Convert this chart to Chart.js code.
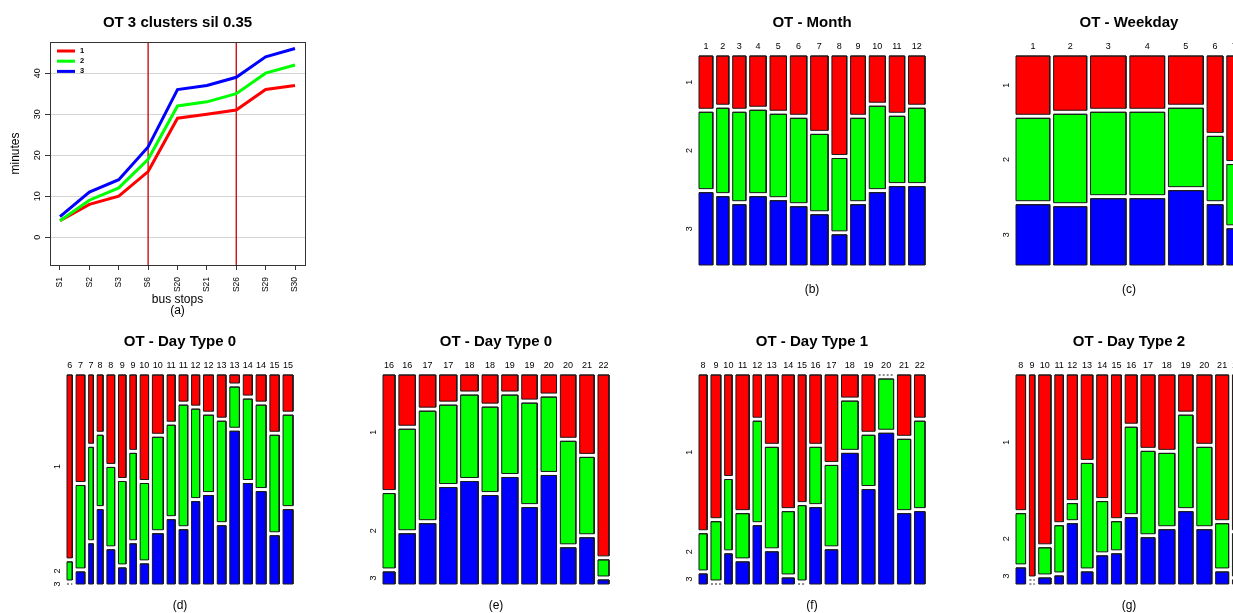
<!DOCTYPE html>
<html>
<head>
<meta charset="utf-8">
<title>OT clusters</title>
<script src="https://cdn.jsdelivr.net/npm/chart.js@4.4.0/dist/chart.umd.min.js"></script>
<style>
  html, body { margin: 0; padding: 0; background: #fff; }
  body { width: 1233px; height: 613px; overflow: hidden; position: relative; }
  canvas { position: absolute; }
</style>
</head>
<body>
<canvas id="chartA" width="356" height="320" style="left:0;top:0"></canvas>
<canvas id="chartB" width="266" height="300" style="left:679px;top:0"></canvas>
<canvas id="chartC" width="266" height="300" style="left:996px;top:0"></canvas>
<canvas id="chartD" width="266" height="300" style="left:47px;top:319px"></canvas>
<canvas id="chartE" width="266" height="300" style="left:363px;top:319px"></canvas>
<canvas id="chartF" width="266" height="300" style="left:679px;top:319px"></canvas>
<canvas id="chartG" width="266" height="300" style="left:996px;top:319px"></canvas>
<script>
// ----- data -----
const clusterNames = ['1', '2', '3'];
const clusterColors = ['#ff0000', '#00ff00', '#0000ff'];

// (a) mean travel time per cluster
const busStops = ['S1', 'S2', 'S3', 'S6', 'S20', 'S21', 'S26', 'S29', 'S30'];
const travelC1 = [4, 8, 10, 16, 29, 30, 31, 36, 37];
const travelC2 = [4, 9, 12, 19, 32, 33, 35, 40, 42];
const travelC3 = [5, 11, 14, 22, 36, 37, 39, 44, 46];
const splitStops = ['S6', 'S26'];
const minuteTicks = [0, 10, 20, 30, 40];

// (b) month
const monthLabels = ['1', '2', '3', '4', '5', '6', '7', '8', '9', '10', '11', '12'];
const monthTrips = [42, 37, 40, 50, 50, 50, 53, 45, 45, 49, 47, 50];
const monthC1 = [26, 24, 26, 25, 27, 29, 37, 49, 29, 23, 28, 24];
const monthC2 = [38, 42, 44, 41, 41, 42, 38, 36, 41, 41, 33, 37];
const monthC3 = [36, 34, 30, 34, 32, 29, 25, 15, 30, 36, 39, 39];

// (c) weekday
const weekdayLabels = ['1', '2', '3', '4', '5', '6', '7'];
const weekdayTrips = [100, 98, 105, 103, 103, 47, 45];
const weekdayC1 = [29, 27, 26, 26, 24, 38, 52];
const weekdayC2 = [41, 44, 41, 41, 39, 32, 30];
const weekdayC3 = [30, 29, 33, 33, 37, 30, 18];

// (d) day type 0, morning
const dayType0aLabels = ['6', '7', '7', '8', '8', '9', '9', '10', '10', '11', '11', '12', '12', '13', '13', '14', '14', '15', '15'];
const dayType0aTrips = [17, 28, 15, 19, 25, 24, 21, 27, 35, 26, 28, 26, 32, 28, 31, 29, 32, 30, 32];
const dayType0aC1 = [91, 53, 34, 28, 44, 51, 37, 52, 29, 23, 13, 15, 18, 21, 4, 10, 13, 28, 18];
const dayType0aC2 = [9, 41, 46, 35, 39, 41, 43, 38, 46, 45, 60, 44, 38, 50, 20, 40, 41, 48, 45];
const dayType0aC3 = [0, 6, 20, 37, 17, 8, 20, 10, 25, 32, 27, 41, 44, 29, 76, 50, 46, 24, 37];

// (e) day type 0, afternoon
const dayType0bLabels = ['16', '16', '17', '17', '18', '18', '19', '19', '20', '20', '21', '22'];
const dayType0bTrips = [35, 48, 48, 50, 51, 46, 47, 45, 45, 45, 42, 32];
const dayType0bC1 = [57, 25, 16, 13, 8, 14, 8, 12, 9, 31, 39, 90];
const dayType0bC2 = [37, 50, 54, 39, 41, 42, 39, 50, 37, 51, 38, 8];
const dayType0bC3 = [6, 25, 30, 48, 51, 44, 53, 38, 54, 18, 23, 2];

// (f) day type 1
const dayType1Labels = ['8', '9', '10', '11', '12', '13', '14', '15', '16', '17', '18', '19', '20', '21', '22'];
const dayType1Trips = [24, 29, 22, 39, 25, 38, 36, 23, 34, 37, 49, 38, 44, 39, 31];
const dayType1C1 = [77, 71, 50, 67, 21, 34, 66, 63, 34, 43, 11, 28, 0, 30, 21];
const dayType1C2 = [18, 29, 35, 22, 50, 50, 31, 37, 28, 40, 24, 25, 25, 35, 43];
const dayType1C3 = [5, 0, 15, 11, 29, 16, 3, 0, 38, 17, 65, 47, 75, 35, 36];

// (g) day type 2
const dayType2Labels = ['8', '9', '10', '11', '12', '13', '14', '15', '16', '17', '18', '19', '20', '21', '22'];
const dayType2Trips = [28, 16, 36, 25, 30, 34, 32, 29, 35, 41, 47, 42, 44, 38, 28];
const dayType2C1 = [67, 100, 84, 73, 62, 42, 61, 71, 24, 36, 37, 18, 34, 72, 77];
const dayType2C2 = [25, 0, 13, 23, 8, 52, 25, 14, 43, 41, 36, 46, 39, 22, 21];
const dayType2C3 = [8, 0, 3, 4, 30, 6, 14, 15, 33, 23, 27, 36, 27, 6, 2];

const GAP_X = 0.017;  // gap between columns, share of the plot width
const GAP_Y = 0.02;   // gap between cells of a column

const FONT = "'Liberation Sans', Arial, Helvetica, sans-serif";
Chart.defaults.font.family = FONT;
Chart.defaults.color = '#000';
Chart.defaults.animation = false;
Chart.defaults.plugins.legend.display = false;
Chart.defaults.plugins.tooltip.enabled = false;

// ----- small plugins -----
// y labels written along the axis, like R does
const sideLabels = {
  id: 'sideLabels',
  afterDraw(chart, args, opts) {
    if (!opts.values) return;
    const { ctx, chartArea } = chart;
    const ys = chart.scales.y;
    ctx.save();
    ctx.font = opts.size + 'px ' + FONT;
    ctx.fillStyle = '#000';
    ctx.textAlign = 'center';
    ctx.textBaseline = 'middle';
    opts.values.forEach((v, i) => {
      ctx.save();
      ctx.translate(chartArea.left - opts.offset, ys.getPixelForValue(v));
      ctx.rotate(-Math.PI / 2);
      ctx.fillText(opts.labels[i], 0, 0);
      ctx.restore();
    });
    ctx.restore();
  }
};

const frame = {
  id: 'frame',
  afterDatasetsDraw(chart) {
    const { ctx, chartArea: a } = chart;
    ctx.save();
    ctx.strokeStyle = '#333';
    ctx.lineWidth = 1;
    ctx.strokeRect(Math.round(a.left) + 0.5, Math.round(a.top) + 0.5, Math.round(a.width), Math.round(a.height));
    ctx.restore();
  }
};

const cornerLegend = {
  id: 'cornerLegend',
  afterDatasetsDraw(chart) {
    const { ctx, chartArea: a } = chart;
    const items = chart.data.datasets.filter(d => clusterNames.includes(d.label))
      .sort((p, q) => clusterNames.indexOf(p.label) - clusterNames.indexOf(q.label));
    ctx.save();
    ctx.font = 'bold 7.5px ' + FONT;
    ctx.textBaseline = 'middle';
    ctx.fillStyle = '#000';
    items.forEach((d, i) => {
      const y = a.top + 9 + i * 10.2;
      ctx.strokeStyle = d.borderColor;
      ctx.lineWidth = 3;
      ctx.beginPath();
      ctx.moveTo(a.left + 7, y);
      ctx.lineTo(a.left + 25, y);
      ctx.stroke();
      ctx.fillText(d.label, a.left + 30, y);
    });
    ctx.restore();
  }
};

// ----- (a) line chart -----
const yMinA = -6.8, yMaxA = 47.6;
const travel = [travelC1, travelC2, travelC3];

new Chart(document.getElementById('chartA'), {
  type: 'line',
  data: {
    datasets: [
      ...travel.map((vals, k) => ({
        label: clusterNames[k],
        data: vals.map((v, i) => ({ x: i + 1, y: v })),
        borderColor: clusterColors[k],
        borderWidth: 3,
        pointRadius: 0,
        order: 3 - k
      })),
      ...splitStops.map(s => ({
        label: s,
        data: [{ x: busStops.indexOf(s) + 1, y: yMinA }, { x: busStops.indexOf(s) + 1, y: yMaxA }],
        borderColor: '#c40000',
        borderWidth: 1.3,
        pointRadius: 0,
        order: 10
      }))
    ]
  },
  options: {
    responsive: false,
    layout: { padding: { left: 0, right: 51, top: 0, bottom: 0 } },
    scales: {
      x: {
        type: 'linear',
        min: 0.66,
        max: 9.34,
        afterBuildTicks: s => { s.ticks = busStops.map((_, i) => ({ value: i + 1 })); },
        afterFit: s => { s.height = 55; },
        ticks: {
          autoSkip: false, minRotation: 90, maxRotation: 90, padding: 7,
          font: { size: 8.5 },
          callback: (v, i) => busStops[i]
        },
        grid: { drawOnChartArea: false, tickLength: 5, tickColor: '#333' },
        border: { color: '#333' },
        title: {
          display: true, text: ['bus stops', '(a)'],
          font: { size: 12, lineHeight: 0.9 }, padding: { top: 0, bottom: 4 }
        }
      },
      y: {
        min: yMinA,
        max: yMaxA,
        afterBuildTicks: s => { s.ticks = minuteTicks.map(v => ({ value: v })); },
        afterFit: s => { s.width = 50; },
        ticks: { display: false },
        grid: { color: '#d4d4d4', tickColor: '#333', tickLength: 5 },
        border: { color: '#333' },
        title: { display: true, text: 'minutes', font: { size: 12 }, padding: { top: 8 } }
      }
    },
    plugins: {
      title: {
        display: true, text: 'OT 3 clusters sil 0.35', fullSize: false,
        font: { size: 15, weight: 'bold' }, padding: { top: 14, bottom: 10 }
      },
      sideLabels: { values: minuteTicks, labels: minuteTicks.map(String), offset: 12, size: 9 }
    }
  },
  plugins: [frame, sideLabels, cornerLegend]
});

// ----- (b)-(g) mosaic plots -----
function mosaic(id, title, tag, labels, trips, c1, c2, c3, subPad) {
  const parts = [c1, c2, c3];
  const n = labels.length;
  const sumW = trips.reduce((a, b) => a + b, 0);
  const gx = sumW * GAP_X / (1 - (n - 1) * GAP_X);
  const xMax = sumW + (n - 1) * gx;
  const yMax = 1 + 2 * GAP_Y;
  const datasets = [];
  const centers = [];
  const sideValues = [];
  let x0 = 0;
  labels.forEach((lab, j) => {
    const x1 = x0 + trips[j];
    centers.push((x0 + x1) / 2);
    const tot = c1[j] + c2[j] + c3[j];
    let y0 = 0;
    parts.forEach((p, k) => {
      const y1 = y0 + p[j] / tot;
      if (j === 0) sideValues.push((y0 + y1) / 2);
      if (p[j] > 0) {
        datasets.push({
          data: [{ x: x0, y: y0 }, { x: x1, y: y0 }, { x: x1, y: y1 }, { x: x0, y: y1 }, { x: x0, y: y0 }, { x: x1, y: y0 }],
          backgroundColor: clusterColors[k],
          borderColor: '#1a1a1a',
          borderWidth: 1,
          borderJoinStyle: 'miter',
          fill: 'shape',
          pointRadius: 0,
          clip: false
        });
      } else {
        // empty cell: dashed line, as R does
        datasets.push({
          data: [{ x: x0, y: y0 }, { x: x1, y: y0 }],
          borderColor: '#1a1a1a',
          borderWidth: 1,
          borderDash: [2, 2],
          fill: false,
          pointRadius: 0,
          clip: false
        });
      }
      y0 = y1 + GAP_Y;
    });
    x0 = x1 + gx;
  });

  return new Chart(document.getElementById(id), {
    type: 'line',
    data: { datasets },
    options: {
      responsive: false,
      layout: { padding: { left: 20, right: 20, top: 0, bottom: 0 } },
      scales: {
        x: {
          type: 'linear', position: 'top', min: 0, max: xMax,
          afterBuildTicks: s => { s.ticks = centers.map(v => ({ value: v })); },
          afterFit: s => { s.height = 24; },
          ticks: { autoSkip: false, maxRotation: 0, padding: 4, font: { size: 9 }, callback: (v, i) => labels[i] },
          grid: { display: false, drawTicks: false },
          border: { display: false }
        },
        y: { display: false, reverse: true, min: 0, max: yMax }
      },
      plugins: {
        title: {
          display: true, text: title, fullSize: false,
          font: { size: 15, weight: 'bold' }, padding: { top: 14, bottom: 0 }
        },
        subtitle: {
          display: true, text: tag, position: 'bottom', fullSize: false,
          font: { size: 12 }, color: '#000', padding: subPad
        },
        sideLabels: { values: sideValues, labels: clusterNames, offset: 9, size: 9 }
      }
    },
    plugins: [sideLabels]
  });
}

const topPad = { top: 17.8, bottom: 2.8 };
const lowPad = { top: 14.8, bottom: 5.8 };

mosaic('chartB', 'OT - Month', '(b)', monthLabels, monthTrips, monthC1, monthC2, monthC3, topPad);
mosaic('chartC', 'OT - Weekday', '(c)', weekdayLabels, weekdayTrips, weekdayC1, weekdayC2, weekdayC3, topPad);
mosaic('chartD', 'OT - Day Type 0', '(d)', dayType0aLabels, dayType0aTrips, dayType0aC1, dayType0aC2, dayType0aC3, lowPad);
mosaic('chartE', 'OT - Day Type 0', '(e)', dayType0bLabels, dayType0bTrips, dayType0bC1, dayType0bC2, dayType0bC3, lowPad);
mosaic('chartF', 'OT - Day Type 1', '(f)', dayType1Labels, dayType1Trips, dayType1C1, dayType1C2, dayType1C3, lowPad);
mosaic('chartG', 'OT - Day Type 2', '(g)', dayType2Labels, dayType2Trips, dayType2C1, dayType2C2, dayType2C3, lowPad);
</script>
</body>
</html>
